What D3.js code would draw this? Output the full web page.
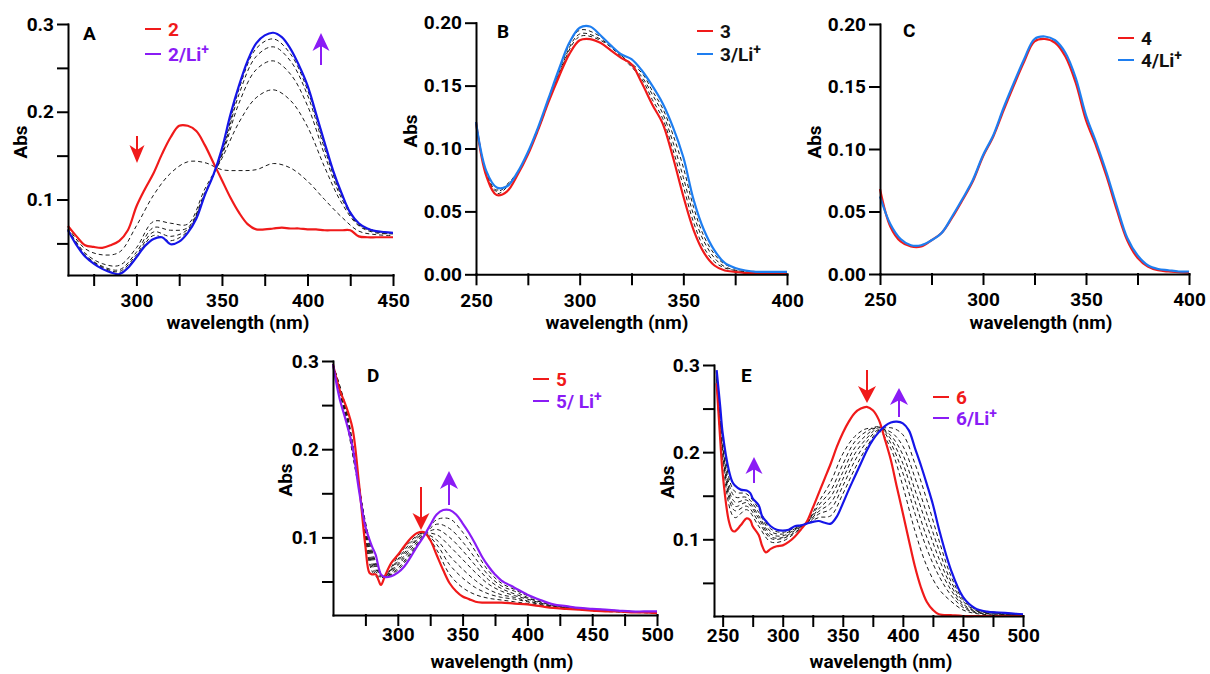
<!DOCTYPE html>
<html>
<head>
<meta charset="utf-8">
<script src="https://cdn.jsdelivr.net/npm/d3@7"></script>
<style>
  body { margin: 0; background: #fff; }
  svg text { font-family: Roboto, "Open Sans", sans-serif; font-weight: 700; font-size: 19px; }
</style>
</head>
<body>
<svg id="fig" width="1210" height="674"></svg>
<script>
// ---------- panel A : 2 -> 2/Li+ ----------
const wlA = [260,265,270,275,280,285,290,295,300,305,310,315,320,325,330,335,340,345,350,355,360,365,370,375,380,385,390,395,400,405,410,415,420,425,430,435,440,445,450];
const redA = [0.070,0.058,0.048,0.046,0.045,0.048,0.053,0.065,0.092,0.112,0.130,0.152,0.171,0.184,0.184,0.178,0.162,0.142,0.122,0.102,0.085,0.072,0.066,0.066,0.067,0.068,0.067,0.067,0.066,0.066,0.065,0.065,0.065,0.065,0.058,0.057,0.057,0.057,0.057];
const blueA = [0.065,0.048,0.035,0.027,0.021,0.017,0.015,0.022,0.034,0.047,0.055,0.057,0.049,0.052,0.062,0.078,0.105,0.128,0.158,0.197,0.230,0.258,0.278,0.287,0.290,0.285,0.272,0.253,0.230,0.198,0.165,0.133,0.107,0.085,0.073,0.067,0.064,0.063,0.062];
const wlAd = [260,270,280,290,300,310,320,330,340,350,360,370,380,390,400,410,420,430,440,450];
const dashA = [
  [0.068,0.044,0.037,0.040,0.070,0.105,0.130,0.143,0.142,0.134,0.133,0.134,0.141,0.136,0.121,0.100,0.080,0.064,0.060,0.059],
  [0.066,0.039,0.027,0.025,0.045,0.075,0.073,0.072,0.112,0.147,0.188,0.216,0.225,0.213,0.183,0.137,0.096,0.070,0.062,0.061],
  [0.066,0.037,0.024,0.020,0.040,0.068,0.065,0.068,0.108,0.150,0.210,0.248,0.258,0.243,0.207,0.151,0.101,0.071,0.063,0.061],
  [0.065,0.036,0.023,0.018,0.037,0.063,0.058,0.066,0.106,0.152,0.220,0.263,0.274,0.258,0.219,0.158,0.104,0.072,0.064,0.062],
  [0.065,0.035,0.022,0.016,0.035,0.059,0.053,0.064,0.105,0.154,0.226,0.272,0.283,0.266,0.225,0.162,0.106,0.073,0.064,0.062]
];

// ---------- panel B : 3 -> 3/Li+ ----------
const wlB = [250,255,260,265,270,275,280,285,290,295,300,305,310,315,320,325,330,335,340,345,350,355,360,365,370,375,380,385,390,395,400];
const redB = [0.121,0.078,0.063,0.066,0.079,0.095,0.115,0.137,0.157,0.175,0.186,0.187,0.184,0.178,0.172,0.167,0.152,0.135,0.120,0.093,0.062,0.035,0.017,0.007,0.003,0.002,0.001,0.001,0.001,0.001,0.001];
const blueB = [0.121,0.082,0.069,0.070,0.081,0.097,0.117,0.140,0.163,0.184,0.196,0.197,0.190,0.182,0.175,0.171,0.162,0.150,0.136,0.117,0.093,0.059,0.035,0.019,0.009,0.005,0.003,0.002,0.002,0.002,0.002];
const wlBd = [250,255,260,270,280,290,300,310,320,330,335,340,345,350,355,360,365,370,380,390,400];
const dashB = [
  [0.121,0.079,0.064,0.080,0.115,0.159,0.189,0.186,0.173,0.155,0.139,0.124,0.099,0.070,0.041,0.021,0.010,0.005,0.002,0.001,0.001],
  [0.121,0.080,0.066,0.080,0.116,0.160,0.191,0.187,0.174,0.157,0.143,0.128,0.105,0.077,0.047,0.026,0.013,0.006,0.002,0.002,0.002],
  [0.121,0.081,0.067,0.081,0.117,0.162,0.194,0.189,0.174,0.160,0.146,0.132,0.111,0.085,0.053,0.030,0.016,0.008,0.003,0.002,0.002]
];

// ---------- panel C : 4 -> 4/Li+ ----------
const wlC = wlB;
const redC = [0.068,0.038,0.026,0.022,0.022,0.027,0.033,0.045,0.059,0.074,0.094,0.110,0.131,0.151,0.170,0.186,0.188,0.185,0.174,0.153,0.123,0.102,0.078,0.051,0.027,0.013,0.006,0.003,0.002,0.0015,0.001];
const blueC = [0.062,0.040,0.028,0.023,0.023,0.027,0.033,0.046,0.060,0.075,0.095,0.111,0.133,0.153,0.172,0.188,0.190,0.187,0.177,0.157,0.127,0.105,0.081,0.054,0.029,0.015,0.007,0.004,0.003,0.002,0.002];

// ---------- panel D : 5 -> 5/Li+ ----------
const wlD = [250,255,260,265,270,275,278,280,283,285,287,290,295,300,305,310,315,320,325,330,335,340,345,350,355,360,365,370,375,380,390,400,410,420,430,440,450,460,470,480,490,500];
const redD = [0.296,0.268,0.249,0.224,0.162,0.090,0.060,0.058,0.058,0.052,0.046,0.056,0.071,0.080,0.090,0.099,0.105,0.106,0.097,0.080,0.063,0.048,0.039,0.033,0.030,0.027,0.026,0.026,0.026,0.026,0.025,0.024,0.022,0.020,0.019,0.018,0.017,0.016,0.016,0.015,0.015,0.014];
const purpleD = [0.296,0.258,0.232,0.203,0.154,0.112,0.098,0.090,0.080,0.067,0.058,0.055,0.056,0.060,0.067,0.078,0.090,0.101,0.114,0.126,0.131,0.131,0.126,0.116,0.105,0.092,0.078,0.067,0.058,0.051,0.043,0.035,0.029,0.024,0.022,0.020,0.019,0.018,0.017,0.016,0.016,0.016];
const wlDd = [250,260,270,280,285,290,300,310,320,330,340,350,360,370,380,390,400,420,440,460,480,500];
const dashD = [
  [0.296,0.247,0.161,0.062,0.054,0.056,0.078,0.096,0.105,0.086,0.058,0.043,0.035,0.031,0.029,0.027,0.025,0.021,0.018,0.016,0.015,0.014],
  [0.296,0.245,0.160,0.066,0.056,0.056,0.075,0.094,0.105,0.092,0.069,0.054,0.043,0.036,0.032,0.030,0.027,0.021,0.019,0.017,0.015,0.015],
  [0.296,0.243,0.159,0.070,0.058,0.056,0.073,0.091,0.104,0.097,0.079,0.064,0.051,0.041,0.035,0.032,0.028,0.022,0.019,0.017,0.015,0.015],
  [0.296,0.240,0.158,0.074,0.060,0.056,0.070,0.089,0.104,0.103,0.090,0.075,0.060,0.047,0.039,0.034,0.030,0.022,0.019,0.017,0.016,0.015],
  [0.296,0.238,0.157,0.078,0.061,0.055,0.068,0.086,0.103,0.109,0.100,0.085,0.068,0.052,0.042,0.036,0.031,0.023,0.019,0.017,0.016,0.015],
  [0.296,0.236,0.156,0.082,0.063,0.055,0.065,0.083,0.102,0.115,0.110,0.095,0.076,0.057,0.045,0.039,0.032,0.023,0.020,0.018,0.016,0.015],
  [0.296,0.234,0.155,0.086,0.065,0.055,0.063,0.081,0.102,0.120,0.121,0.106,0.084,0.062,0.048,0.041,0.034,0.024,0.020,0.018,0.016,0.016]
];

// ---------- panel E : 6 -> 6/Li+ ----------
const wlE = [245,248,250,255,258,260,265,270,273,275,280,283,286,290,295,300,305,310,315,320,325,330,335,340,345,350,355,360,365,370,375,380,385,390,395,400,405,410,415,420,425,430,440,450,460,470,480,490,500];
const redE = [0.279,0.214,0.176,0.122,0.110,0.109,0.116,0.124,0.122,0.115,0.105,0.092,0.085,0.089,0.092,0.093,0.097,0.103,0.111,0.120,0.136,0.153,0.170,0.187,0.206,0.222,0.235,0.245,0.250,0.252,0.248,0.237,0.215,0.191,0.160,0.130,0.099,0.069,0.045,0.028,0.019,0.014,0.013,0.012,0.012,0.012,0.012,0.012,0.012];
const blueE = [0.294,0.252,0.222,0.180,0.166,0.162,0.157,0.156,0.153,0.147,0.139,0.126,0.121,0.115,0.111,0.110,0.111,0.115,0.116,0.118,0.120,0.121,0.119,0.118,0.126,0.141,0.157,0.172,0.187,0.202,0.214,0.223,0.230,0.234,0.235,0.233,0.225,0.205,0.185,0.163,0.140,0.112,0.065,0.034,0.021,0.017,0.016,0.015,0.014];
const wlEd = [245,250,260,270,280,290,300,310,320,330,340,350,360,370,380,390,400,410,420,430,440,450,460,480,500];
const dashE = [
  [0.284,0.190,0.125,0.134,0.115,0.097,0.098,0.107,0.119,0.143,0.166,0.198,0.218,0.227,0.225,0.204,0.161,0.110,0.069,0.043,0.029,0.019,0.015,0.013,0.013],
  [0.286,0.197,0.133,0.138,0.120,0.101,0.101,0.108,0.119,0.139,0.156,0.186,0.212,0.224,0.229,0.210,0.176,0.130,0.089,0.058,0.036,0.022,0.016,0.014,0.013],
  [0.287,0.201,0.138,0.142,0.124,0.103,0.102,0.110,0.119,0.135,0.149,0.177,0.205,0.220,0.229,0.215,0.187,0.144,0.102,0.068,0.042,0.024,0.017,0.014,0.013],
  [0.289,0.206,0.143,0.145,0.127,0.106,0.104,0.111,0.119,0.132,0.142,0.169,0.198,0.216,0.228,0.219,0.197,0.157,0.116,0.078,0.047,0.026,0.018,0.015,0.013],
  [0.290,0.211,0.149,0.148,0.131,0.109,0.106,0.112,0.118,0.129,0.135,0.161,0.190,0.212,0.226,0.223,0.207,0.171,0.129,0.088,0.052,0.029,0.019,0.015,0.014],
  [0.292,0.216,0.155,0.152,0.135,0.112,0.108,0.113,0.118,0.125,0.127,0.152,0.181,0.206,0.225,0.228,0.220,0.187,0.145,0.099,0.058,0.031,0.020,0.016,0.014]
];

// tick values
const ticks300 = [300,350,400,450];
const ticks250 = [250,300,350,400];
const ticks500 = [300,350,400,450,500];
const ticks250to500 = [250,300,350,400,450,500];
const absTicks01 = [0.1,0.2,0.3];
const absMinor01 = [0.05,0.15,0.25];
const absTicks005 = [0,0.05,0.10,0.15,0.20];

const RED = '#f01a1a', PURPLE = '#8a1cf5', BLUE = '#1515e8', AZURE = '#1e7ef0';

const panels = [
  { tag: 'A', xDomain: [260,450], yDomain: [0.014,0.3], xRange: [68,393], yRange: [275,24], xPad: 9,
    xMajor: ticks300, xMinor: [275,325,375,425], yMajor: absTicks01, yMinor: absMinor01, yFmt: '.1f',
    dashWl: wlAd, dashed: dashA,
    solid: [{wl: wlA, v: redA, c: RED}, {wl: wlA, v: blueA, c: BLUE}],
    tagPos: [83,40], absPos: [20,142], wavePos: [238,329],
    legend: {x: 145, ys: [29,54], items: [['2', null, RED], ['2/Li', '+', PURPLE]]},
    arrows: [[137,136,163,RED,18,15,'down'], [321,33,65,PURPLE,18,17,'up']] },
  { tag: 'B', xDomain: [250,400], yDomain: [0,0.2], xRange: [476,787], yRange: [274.3,22.7], xPad: 9,
    xMajor: ticks250, xMinor: [275,325,375], yMajor: absTicks005, yMinor: [], yFmt: '.2f',
    dashWl: wlBd, dashed: dashB,
    solid: [{wl: wlB, v: redB, c: RED}, {wl: wlB, v: blueB, c: AZURE}],
    tagPos: [497,38], absPos: [410,131], wavePos: [617,329],
    legend: {x: 697, ys: [31,54], items: [['3', null, '#111'], ['3/Li', '+', '#111']], swatch: [RED, AZURE]},
    arrows: [] },
  { tag: 'C', xDomain: [250,400], yDomain: [0,0.2], xRange: [880,1189], yRange: [274,24], xPad: 9,
    xMajor: ticks250, xMinor: [275,325,375], yMajor: absTicks005, yMinor: [], yFmt: '.2f',
    dashWl: null, dashed: [],
    solid: [{wl: wlC, v: redC, c: RED}, {wl: wlC, v: blueC, c: AZURE}],
    tagPos: [903,37], absPos: [814,142], wavePos: [1041,329],
    legend: {x: 1118, ys: [38,60], items: [['4', null, '#111'], ['4/Li', '+', '#111']], swatch: [RED, AZURE]},
    arrows: [] },
  { tag: 'D', xDomain: [250,500], yDomain: [0.012,0.3], xRange: [333,657], yRange: [615,361], xPad: 3,
    xMajor: ticks500, xMinor: [275,325,375,425,475], yMajor: absTicks01, yMinor: absMinor01, yFmt: '.1f',
    dashWl: wlDd, dashed: dashD,
    solid: [{wl: wlD, v: redD, c: RED}, {wl: wlD, v: purpleD, c: PURPLE}],
    tagPos: [367,382], absPos: [285,480], wavePos: [502,668],
    legend: {x: 533, ys: [379,401], items: [['5', null, RED], ['5/ Li', '+', PURPLE]]},
    arrows: [[421,487,530,RED,17,17,'down'], [449,471,505,PURPLE,18,18,'up']] },
  { tag: 'E', xDomain: [242.8,500], yDomain: [0.012,0.3], xRange: [714,1023], yRange: [616,365], xPad: 3,
    xMajor: ticks250to500, xMinor: [275,325,375,425,475], yMajor: absTicks01, yMinor: absMinor01, yFmt: '.1f',
    dashWl: wlEd, dashed: dashE,
    solid: [{wl: wlE, v: redE, c: RED}, {wl: wlE, v: blueE, c: BLUE}],
    tagPos: [741,382], absPos: [667,482], wavePos: [881,668],
    legend: {x: 933, ys: [397,418], items: [['6', null, RED], ['6/Li', '+', PURPLE]]},
    arrows: [[867,370,403,RED,17,18,'down'], [899,388,417,PURPLE,17,18,'up'], [754,457,483,PURPLE,17,17,'up']] }
];

const svg = d3.select('#fig');

function drawArrow(g, [x, y1, y2, color, headLen, headW, dir]) {
  // y1 top, y2 bottom; head at bottom for 'down', at top for 'up'
  const tip = dir === 'down' ? y2 : y1;
  const s = dir === 'down' ? -1 : 1;
  g.append('line')
    .attr('x1', x).attr('x2', x)
    .attr('y1', dir === 'down' ? y1 : tip + headLen * 0.7)
    .attr('y2', dir === 'down' ? tip - headLen * 0.7 : y2)
    .attr('stroke', color).attr('stroke-width', 2);
  const p = d3.path();
  p.moveTo(x, tip);
  p.lineTo(x - headW / 2, tip + s * headLen);
  p.lineTo(x, tip + s * headLen * 0.72);
  p.lineTo(x + headW / 2, tip + s * headLen);
  p.closePath();
  g.append('path').attr('d', p.toString()).attr('fill', color);
}

function drawPanel(p) {
  const x = d3.scaleLinear().domain(p.xDomain).range(p.xRange);
  const y = d3.scaleLinear().domain(p.yDomain).range(p.yRange);
  const g = svg.append('g').attr('class', 'panel-' + p.tag);

  const line = d3.line()
    .x(d => x(d[0]))
    .y(d => y(d[1]))
    .curve(d3.curveCatmullRom.alpha(0.5));

  // intermediate titration spectra
  p.dashed.forEach(vals => {
    g.append('path')
      .datum(d3.zip(p.dashWl, vals))
      .attr('d', line)
      .attr('fill', 'none')
      .attr('stroke', '#1a1a1a')
      .attr('stroke-width', 1)
      .attr('stroke-dasharray', '4,3');
  });

  // start and end spectra
  p.solid.forEach(s => {
    g.append('path')
      .datum(d3.zip(s.wl, s.v))
      .attr('d', line)
      .attr('fill', 'none')
      .attr('stroke', s.c)
      .attr('stroke-width', 2.2)
      .attr('stroke-linejoin', 'round');
  });

  // axes
  const xAxis = d3.axisBottom(x)
    .tickValues(p.xMajor.concat(p.xMinor))
    .tickFormat(d => p.xMajor.includes(d) ? d : '')
    .tickSize(10).tickSizeOuter(0).tickPadding(p.xPad);
  const yAxis = d3.axisLeft(y)
    .tickValues(p.yMajor.concat(p.yMinor))
    .tickFormat(d => p.yMajor.includes(d) ? d3.format(p.yFmt)(d) : '')
    .tickSize(10).tickSizeOuter(0).tickPadding(4);

  const gx = g.append('g').attr('transform', `translate(0,${p.yRange[0]})`).call(xAxis);
  const gy = g.append('g').attr('transform', `translate(${p.xRange[0]},0)`).call(yAxis);
  [gx, gy].forEach(ax => {
    ax.selectAll('path, line').attr('stroke', '#000').attr('stroke-width', 2).attr('stroke-linecap', 'square');
    ax.selectAll('text').attr('fill', '#000');
  });

  // titles
  g.append('text').attr('x', p.tagPos[0]).attr('y', p.tagPos[1]).text(p.tag);
  g.append('text')
    .attr('transform', `translate(${p.absPos[0]},${p.absPos[1]}) rotate(-90)`)
    .attr('text-anchor', 'middle').attr('dy', '0.35em')
    .text('Abs');
  g.append('text')
    .attr('x', p.wavePos[0]).attr('y', p.wavePos[1])
    .attr('text-anchor', 'middle')
    .text('wavelength (nm)');

  // legend
  const lg = p.legend;
  lg.items.forEach((it, i) => {
    const yy = lg.ys[i];
    const sw = lg.swatch ? lg.swatch[i] : it[2];
    g.append('line')
      .attr('x1', lg.x).attr('x2', lg.x + 16)
      .attr('y1', yy).attr('y2', yy)
      .attr('stroke', sw).attr('stroke-width', 2);
    const t = g.append('text')
      .attr('x', lg.x + 23).attr('y', yy + 6.5)
      .attr('font-size', 18)
      .attr('fill', it[2])
      .text(it[0]);
    if (it[1]) {
      t.append('tspan').attr('dy', -7).attr('font-size', 14).text(it[1]);
    }
  });

  p.arrows.forEach(a => drawArrow(g, a));
}

panels.forEach(drawPanel);
</script>
</body>
</html>
